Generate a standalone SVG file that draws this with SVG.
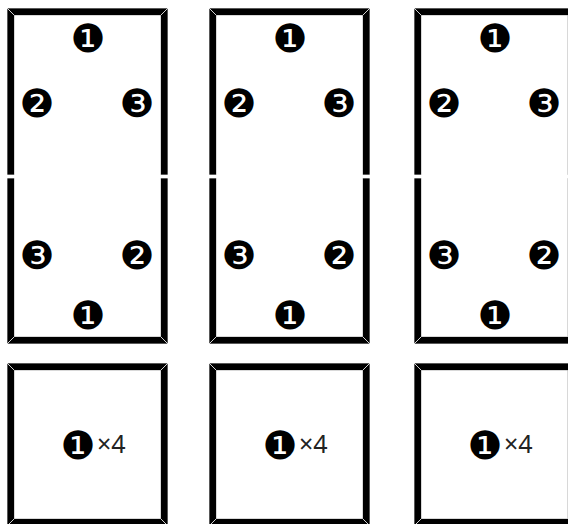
<svg xmlns="http://www.w3.org/2000/svg" xmlns:xlink="http://www.w3.org/1999/xlink" width="568" height="524" viewBox="0 0 568 524">
  <style>
    .bar { fill: #000; stroke: #fff; stroke-width: 0.7; stroke-linejoin: miter; }
    .num { font-family: "DejaVu Sans", "Noto Sans CJK SC", sans-serif; font-size: 39px; fill: #000; text-anchor: middle; dominant-baseline: central; }
    .mult { font-family: "Noto Sans", "DejaVu Sans", sans-serif; font-size: 25px; fill: #222; dominant-baseline: central; }
  </style>
  <defs>
    <g id="halfTop">
      <polygon class="bar" points="0,0 161,0 153.5,7.5 7.5,7.5"/>
      <polygon class="bar" points="0,0 7.5,7.5 7.5,167 0,167"/>
      <polygon class="bar" points="161,0 161,167 153.5,167 153.5,7.5"/>
    </g>
    <g id="halfBottom">
      <polygon class="bar" points="0,0 7.5,0 7.5,158.5 0,166"/>
      <polygon class="bar" points="0,166 7.5,158.5 153.5,158.5 161,166"/>
      <polygon class="bar" points="161,0 161,166 153.5,158.5 153.5,0"/>
    </g>
    <g id="square">
      <polygon class="bar" points="0,0 161,0 153.5,7.5 7.5,7.5"/>
      <polygon class="bar" points="0,0 7.5,7.5 7.5,155.5 0,163"/>
      <polygon class="bar" points="161,0 161,163 153.5,155.5 153.5,7.5"/>
      <polygon class="bar" points="0,163 7.5,155.5 153.5,155.5 161,163"/>
    </g>
  </defs>
  <rect width="568" height="524" fill="#fff"/>

  <g id="domino1" transform="translate(7,0)">
    <use xlink:href="#halfTop" href="#halfTop" x="0" y="8"/>
    <use xlink:href="#halfBottom" href="#halfBottom" x="0" y="178"/>
    <text class="num" x="81" y="38">❶</text>
    <text class="num" x="30" y="103">❷</text>
    <text class="num" x="130" y="103">❸</text>
    <text class="num" x="30" y="255">❸</text>
    <text class="num" x="130" y="255">❷</text>
    <text class="num" x="81" y="315">❶</text>
  </g>
  <g id="domino2" transform="translate(209,0)">
    <use xlink:href="#halfTop" href="#halfTop" x="0" y="8"/>
    <use xlink:href="#halfBottom" href="#halfBottom" x="0" y="178"/>
    <text class="num" x="81" y="38">❶</text>
    <text class="num" x="30" y="103">❷</text>
    <text class="num" x="130" y="103">❸</text>
    <text class="num" x="30" y="255">❸</text>
    <text class="num" x="130" y="255">❷</text>
    <text class="num" x="81" y="315">❶</text>
  </g>
  <g id="domino3" transform="translate(414,0)">
    <use xlink:href="#halfTop" href="#halfTop" x="0" y="8"/>
    <use xlink:href="#halfBottom" href="#halfBottom" x="0" y="178"/>
    <text class="num" x="81" y="38">❶</text>
    <text class="num" x="30" y="103">❷</text>
    <text class="num" x="130" y="103">❸</text>
    <text class="num" x="30" y="255">❸</text>
    <text class="num" x="130" y="255">❷</text>
    <text class="num" x="81" y="315">❶</text>
  </g>

  <g id="tile1" transform="translate(7,363)">
    <use xlink:href="#square" href="#square"/>
    <text class="num" x="71" y="82">❶</text>
    <text class="mult" x="90" y="80">×4</text>
  </g>
  <g id="tile2" transform="translate(209,363)">
    <use xlink:href="#square" href="#square"/>
    <text class="num" x="71" y="82">❶</text>
    <text class="mult" x="90" y="80">×4</text>
  </g>
  <g id="tile3" transform="translate(414,363)">
    <use xlink:href="#square" href="#square"/>
    <text class="num" x="71" y="82">❶</text>
    <text class="mult" x="90" y="80">×4</text>
  </g>
</svg>
